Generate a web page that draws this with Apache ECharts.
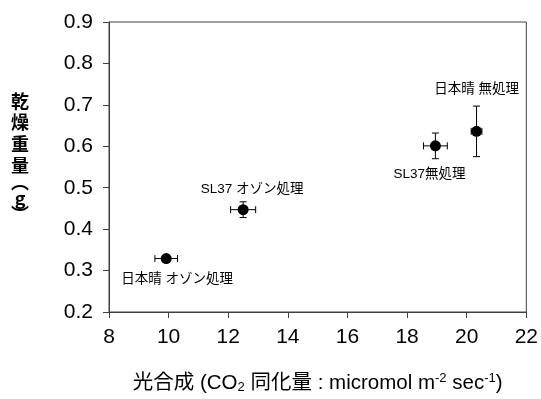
<!DOCTYPE html>
<html><head><meta charset="utf-8">
<script src="https://cdn.jsdelivr.net/npm/echarts@6/dist/echarts.min.js"></script>
<style>html,body{margin:0;padding:0;background:#fff}#c{width:541px;height:399px}</style>
</head><body><div id="c"></div>
<script>
const names = ['日本晴 オゾン処理', 'SL37 オゾン処理', 'SL37無処理', '日本晴 無処理'];
const photo = [9.92, 12.5, 18.95, 20.33];
const photoErr = [0.38, 0.42, 0.4, 0.18];
const dryWeight = [0.329, 0.447, 0.601, 0.636];
const dryErr = [0.004, 0.019, 0.031, 0.061];
const xTicks = [8, 10, 12, 14, 16, 18, 20, 22];
const yTicks = [0.2, 0.3, 0.4, 0.5, 0.6, 0.7, 0.8, 0.9];

const labelOffsets = [[11, 21], [9, -20], [-6, 28], [0, -42]];
const font = '"Liberation Sans", Arial, "Noto Sans CJK JP", sans-serif';
const axisColor = '#404040';

const pts = photo.map((x, i) => ({
  value: [x, dryWeight[i]],
  name: names[i],
  label: { show: true, formatter: names[i], position: 'inside', offset: labelOffsets[i],
    fontSize: 13.5, color: '#000', fontFamily: font }
}));
const errData = photo.map((x, i) => [x, dryWeight[i], photoErr[i], dryErr[i]]);

const chart = echarts.init(document.getElementById('c'), null, { renderer: 'canvas' });
chart.setOption({
  animation: false,
  grid: { left: 109, right: 14, top: 22, bottom: 84, show: true, borderColor: axisColor, borderWidth: 1 },
  xAxis: {
    type: 'value', min: xTicks[0], max: xTicks[xTicks.length - 1], interval: 2,
    splitLine: { show: false },
    axisLine: { lineStyle: { color: axisColor, width: 1 } },
    axisTick: { inside: false, length: 6, lineStyle: { color: axisColor } },
    axisLabel: { fontSize: 21, color: '#000', fontFamily: font, margin: 15 },
    name: '{a|光合成 (CO}{sub|2}{a| 同化量 : micromol m}{sup|-2}{a| sec}{sup|-1}{a|)}',
    nameLocation: 'middle', nameGap: 60,
    nameTextStyle: {
      rich: {
        a: { fontSize: 20.5, color: '#000', fontFamily: font },
        sub: { fontSize: 13, color: '#000', fontFamily: font, verticalAlign: 'bottom', padding: [9, 0, 0, 0] },
        sup: { fontSize: 13, color: '#000', fontFamily: font, verticalAlign: 'top', padding: [0, 0, 9, 0] }
      }
    }
  },
  yAxis: {
    type: 'value', min: yTicks[0], max: yTicks[yTicks.length - 1], interval: 0.1,
    splitLine: { show: false },
    axisLine: { show: true, lineStyle: { color: axisColor, width: 1 } },
    axisTick: { show: true, inside: false, length: 6, lineStyle: { color: axisColor } },
    axisLabel: { fontSize: 21, color: '#000', fontFamily: font, margin: 16, formatter: v => v.toFixed(1) },
    name: '{a|乾}\n{a|燥}\n{a|重}\n{a|量}\n{p|︵}\n{a|g}\n{p|︶}',
    nameLocation: 'middle', nameRotate: 0, nameGap: 89,
    nameTextStyle: {
      align: 'center', padding: [0, 0, 24, 0],
      rich: {
        a: { fontSize: 18, fontWeight: 'bold', color: '#000', fontFamily: '"Noto Sans CJK JP", sans-serif', lineHeight: 21.5, align: 'center' },
        p: { fontSize: 18, fontWeight: 'bold', color: '#000', fontFamily: '"Noto Sans CJK JP", sans-serif', lineHeight: 11, align: 'center' }
      }
    }
  },
  series: [
    {
      type: 'custom',
      data: errData,
      z: 3,
      renderItem: function (params, api) {
        const x = api.value(0), y = api.value(1), ex = api.value(2), ey = api.value(3);
        const c = api.coord([x, y]);
        const l = api.coord([x - ex, y]), r = api.coord([x + ex, y]);
        const t = api.coord([x, y + ey]), b = api.coord([x, y - ey]);
        const cap = 3.5;
        const st = { stroke: '#000', lineWidth: 1 };
        return {
          type: 'group',
          children: [
            { type: 'line', shape: { x1: l[0], y1: c[1], x2: r[0], y2: c[1] }, style: st },
            { type: 'line', shape: { x1: l[0], y1: c[1] - cap, x2: l[0], y2: c[1] + cap }, style: st },
            { type: 'line', shape: { x1: r[0], y1: c[1] - cap, x2: r[0], y2: c[1] + cap }, style: st },
            { type: 'line', shape: { x1: c[0], y1: t[1], x2: c[0], y2: b[1] }, style: st },
            { type: 'line', shape: { x1: c[0] - cap, y1: t[1], x2: c[0] + cap, y2: t[1] }, style: st },
            { type: 'line', shape: { x1: c[0] - cap, y1: b[1], x2: c[0] + cap, y2: b[1] }, style: st }
          ]
        };
      }
    },
    {
      type: 'scatter',
      data: pts,
      symbol: 'circle', symbolSize: 11,
      itemStyle: { color: '#000', opacity: 1 },
      z: 4
    }
  ]
});
</script>
</body></html>
